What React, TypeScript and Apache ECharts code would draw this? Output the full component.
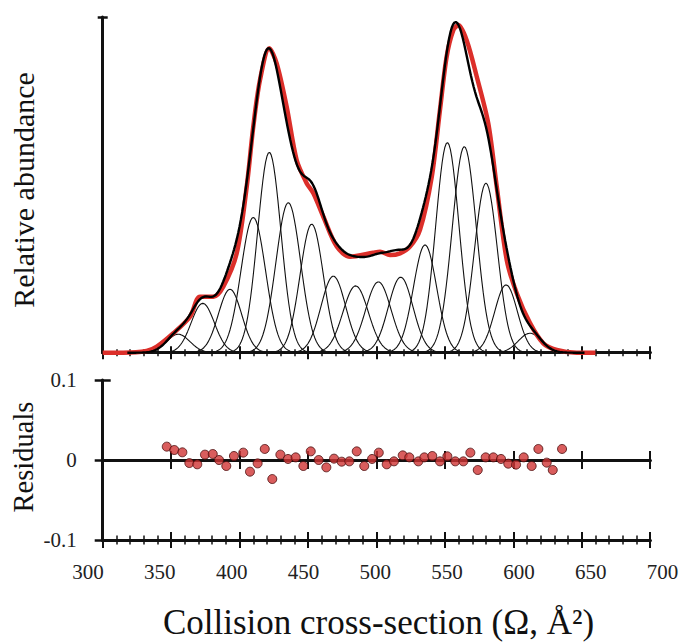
import React, { useEffect, useRef } from "react";
import * as echarts from "echarts";

// Gaussian components (centre, peak height, width σ)
const compCenters = [355.2, 373.1, 393.0, 410.0, 421.7, 435.6, 452.7, 468.5, 484.8, 501.4, 517.7, 535.5, 551.8, 564.2, 580.0, 594.7, 612.2];
const compHeights = [0.055, 0.147, 0.189, 0.403, 0.597, 0.447, 0.383, 0.228, 0.199, 0.211, 0.225, 0.321, 0.626, 0.614, 0.505, 0.202, 0.058];
const compSigmas = [8.5, 8.5, 8.5, 9, 8.5, 9, 8.5, 9, 9.3, 9.3, 9, 8.5, 8.5, 8.8, 8.4, 8.3, 8.5];

const expX = [300, 315, 332, 339.5, 351.6, 363.8, 371.1, 380.8, 388.1, 397.9, 405.2, 410, 414.9, 421.7, 427.1, 434.4, 441.7, 449, 453.9, 461.2, 471, 480.7, 497.7, 502.6, 509.9, 517.2, 524.5, 531.8, 540.4, 546.4, 551.3, 556.2, 559.8, 565.9, 573.3, 581.7, 587.9, 595.2, 602.5, 612.2, 621.9, 631.7, 646.3, 660];
const expY = [0, 0, 0.005, 0.018, 0.058, 0.107, 0.167, 0.167, 0.197, 0.296, 0.494, 0.673, 0.812, 0.907, 0.862, 0.733, 0.574, 0.505, 0.475, 0.405, 0.316, 0.286, 0.298, 0.301, 0.291, 0.296, 0.316, 0.366, 0.524, 0.723, 0.882, 0.961, 0.976, 0.931, 0.822, 0.683, 0.494, 0.276, 0.177, 0.088, 0.028, 0.008, 0, 0];

// Residuals
const resX = [346.8, 352.3, 358.2, 363.3, 369.1, 374.7, 380.4, 385, 390.3, 395.9, 402.7, 407.6, 413.2, 418.4, 423.9, 429.8, 435.4, 441, 446.6, 452, 457.8, 463.4, 469, 474.6, 480.2, 485.6, 491.1, 496.8, 501.7, 507.5, 512.8, 519.2, 524, 530.6, 535, 540.8, 546.4, 551.8, 557.6, 563.5, 568.6, 574, 579.8, 585.4, 591, 596.3, 602, 607.6, 613.4, 618.3, 624.4, 628.8, 635.6];
const resY = [0.0167, 0.0125, 0.0096, -0.0038, -0.0054, 0.0067, 0.0075, 0, -0.0075, 0.005, 0.0092, -0.0146, -0.0042, 0.0138, -0.0238, 0.0067, 0.0013, 0.0033, -0.0075, 0.0108, 0, -0.0092, 0.0017, -0.0021, -0.0017, 0.0108, -0.0075, 0.0013, 0.0092, -0.0054, -0.0017, 0.0058, 0.0033, -0.0017, 0.0033, 0.005, -0.0017, 0.0046, -0.0017, -0.0017, 0.0092, -0.0125, 0.0033, 0.0033, 0.0013, -0.0046, -0.0058, 0.0033, -0.0075, 0.0138, -0.0033, -0.0125, 0.0138];

const xTickMin = 300;
const xTickMax = 700;
const xTickStep = 50;
const resTicks = [-0.1, 0, 0.1];

const xTitle = "Collision cross-section (Ω, Å²)";
const yTitleTop = "Relative abundance";
const yTitleBottom = "Residuals";

const SERIF = "'Liberation Serif', 'Times New Roman', serif";
const INK = "#111";

function gauss(x: number, i: number) {
  const d = x - compCenters[i];
  return compHeights[i] * Math.exp(-(d * d) / (2 * compSigmas[i] * compSigmas[i]));
}

function buildOption() {
  const compSeries = compCenters.map((c, i) => {
    const pts: number[][] = [];
    const s = compSigmas[i];
    const a = Math.ceil(c - 4 * s);
    const b = Math.floor(c + 4 * s);
    for (let x = a; x <= b; x += 1) pts.push([x, gauss(x, i)]);
    return {
      type: "line",
      xAxisIndex: 0,
      yAxisIndex: 0,
      data: pts,
      symbol: "none",
      silent: true,
      lineStyle: { color: INK, width: 1.1 },
      z: 2,
    };
  });

  const fit: number[][] = [];
  for (let x = 318; x <= 652; x += 1) {
    let s = 0;
    for (let i = 0; i < compCenters.length; i++) s += gauss(x, i);
    fit.push([x, s]);
  }

  const xAx = (gridIndex: number, inside: boolean, major: number, minor: number) => ({
    type: "value",
    gridIndex,
    min: xTickMin,
    max: xTickMax,
    interval: xTickStep,
    position: "bottom",
    axisLine: { show: true, onZero: false, lineStyle: { color: INK, width: 3 } },
    axisTick: { show: true, inside, length: major, lineStyle: { color: INK, width: 2 } },
    minorTick: { show: minor > 0, splitNumber: 5, length: minor, lineStyle: { color: INK, width: 1.5 } },
    axisLabel: { show: false },
    splitLine: { show: false },
    minorSplitLine: { show: false },
  });

  const yAx = (gridIndex: number, inside: boolean, min: number, max: number, interval: number, len: number, extra: any) => ({
    type: "value",
    gridIndex,
    position: "left",
    min,
    max,
    interval,
    axisLine: { show: !inside, onZero: false, lineStyle: { color: INK, width: 3 } },
    axisTick: { show: true, inside, length: len, lineStyle: { color: INK, width: 2.5 }, ...(extra.tick || {}) },
    axisLabel: extra.label || { show: false },
    splitLine: { show: false },
  });

  const resLabel = {
    show: true,
    margin: 26,
    fontSize: 21,
    fontFamily: SERIF,
    color: "#222",
    formatter: (v: number) => (Math.abs(v) < 1e-9 ? "0" : v.toFixed(1)),
  };

  const option: any = {
    animation: false,
    backgroundColor: "#fff",
    grid: [
      { left: 102.7, top: 17, width: 547.5, height: 335.7 },
      { left: 102.7, top: 380, width: 547.5, height: 160 },
      { left: 88, top: 380, width: 574.5, height: 160 },
      { left: 102.7, top: 380, width: 547.5, height: 80 },
    ],
    xAxis: [
      xAx(0, false, 6.5, 3.5),
      xAx(0, true, 6.5, 3.5),
      xAx(1, false, 8, 4.5),
      xAx(1, true, 8, 4.5),
      xAx(3, false, 9, 0),
      xAx(3, true, 9, 0),
      {
        type: "value",
        gridIndex: 2,
        position: "bottom",
        min: xTickMin,
        max: xTickMax,
        interval: xTickStep,
        axisLine: { show: false },
        axisTick: { show: false },
        splitLine: { show: false },
        axisLabel: {
          show: true,
          margin: 21,
          fontSize: 21,
          fontFamily: SERIF,
          color: "#222",
        },
      },
    ],
    yAxis: [
      yAx(0, false, 0, 1, 1, 5, { tick: { customValues: [1] } }),
      yAx(0, true, 0, 1, 1, 5, { tick: { customValues: [1] } }),
      yAx(1, false, resTicks[0], resTicks[resTicks.length - 1], 0.1, 8, { label: resLabel }),
      yAx(1, true, resTicks[0], resTicks[resTicks.length - 1], 0.1, 8, {}),
      { type: "value", gridIndex: 2, position: "left", show: false, min: -1, max: 1 },
      { type: "value", gridIndex: 3, position: "left", show: false, min: 0, max: 1 },
    ],
    series: [
      ...compSeries,
      {
        type: "line",
        name: "experiment",
        xAxisIndex: 0,
        yAxisIndex: 0,
        data: expX.map((x, i) => [x, expY[i]]),
        symbol: "none",
        smooth: 0.3,
        silent: true,
        lineStyle: { color: "#dc2f2a", width: 4.5 },
        z: 3,
      },
      {
        type: "line",
        name: "fit",
        xAxisIndex: 0,
        yAxisIndex: 0,
        data: fit,
        symbol: "none",
        silent: true,
        lineStyle: { color: "#000", width: 2.4 },
        z: 4,
      },
      {
        type: "scatter",
        name: "residuals",
        xAxisIndex: 2,
        yAxisIndex: 2,
        data: resX.map((x, i) => [x, resY[i]]),
        symbol: "circle",
        symbolSize: 9,
        silent: true,
        itemStyle: { color: "#cf3535", borderColor: "#4a0d0d", borderWidth: 1 },
        z: 5,
      },
    ],
    graphic: [
      {
        type: "text",
        x: 378.5,
        y: 622,
        silent: true,
        style: {
          text: xTitle,
          font: "35px " + SERIF,
          fill: "#111",
          align: "center",
          verticalAlign: "middle",
          textAlign: "center",
          textVerticalAlign: "middle",
        },
      },
      {
        type: "text",
        x: 23,
        y: 190,
        rotation: Math.PI / 2,
        silent: true,
        style: {
          text: yTitleTop,
          font: "30px " + SERIF,
          fill: "#111",
          align: "center",
          verticalAlign: "middle",
          textAlign: "center",
          textVerticalAlign: "middle",
        },
      },
      {
        type: "text",
        x: 23,
        y: 457,
        rotation: Math.PI / 2,
        silent: true,
        style: {
          text: yTitleBottom,
          font: "28.5px " + SERIF,
          fill: "#111",
          align: "center",
          verticalAlign: "middle",
          textAlign: "center",
          textVerticalAlign: "middle",
        },
      },
    ],
  };
  return option;
}

export default function App() {
  const ref = useRef<HTMLDivElement>(null);
  useEffect(() => {
    if (!ref.current) return;
    const chart = echarts.init(ref.current, null, { renderer: "svg" });
    chart.setOption(buildOption());
    return () => chart.dispose();
  }, []);
  return (
    <div
      ref={ref}
      style={{ position: "absolute", left: 0, top: 0, width: 682, height: 642, background: "#fff" }}
    />
  );
}
